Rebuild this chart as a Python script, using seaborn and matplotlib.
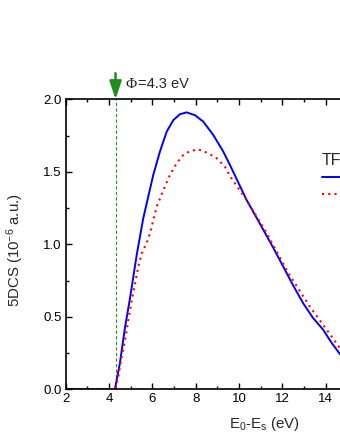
import matplotlib
matplotlib.use("Agg")
import matplotlib.pyplot as plt
import seaborn as sns
import pandas as pd
from matplotlib.ticker import MultipleLocator, FuncFormatter

# Data
x_blue = [2.0, 3.0, 4.0, 4.27, 4.5, 4.74, 4.97, 5.28, 5.58, 6.04, 6.35, 6.66, 6.97,
          7.27, 7.58, 7.97, 8.35, 8.81, 9.27, 9.58, 10.35, 11.12, 11.6, 12.04, 12.5,
          12.96, 13.4, 13.89, 14.25, 14.63, 15.0]
y_blue = [0.0, 0.0, 0.0, 0.0, 0.179, 0.43, 0.63, 0.93, 1.18, 1.478, 1.64, 1.777, 1.857,
          1.897, 1.91, 1.89, 1.846, 1.754, 1.64, 1.547, 1.305, 1.10, 0.97, 0.846, 0.715,
          0.593, 0.495, 0.409, 0.325, 0.248, 0.17]
x_red = [2.0, 3.0, 4.0, 4.27, 4.43, 4.58, 4.74, 4.89, 5.05, 5.2, 5.35, 5.51, 5.74,
         5.89, 6.20, 6.58, 6.81, 7.12, 7.43, 7.74, 8.12, 8.58, 8.97, 9.35, 9.58,
         10.35, 11.28, 12.2, 12.75, 13.27, 13.9, 14.5, 15.0]
y_red = [0.0, 0.0, 0.0, 0.0, 0.087, 0.225, 0.34, 0.478, 0.616, 0.73, 0.845, 0.938, 1.01,
         1.076, 1.26, 1.40, 1.478, 1.56, 1.616, 1.643, 1.655, 1.628, 1.593, 1.535, 1.47,
         1.305, 1.076, 0.82, 0.69, 0.57, 0.44, 0.317, 0.21]
series_names = ["TF-A", "TF-B"]
phi = 4.3

sns.set_theme(style="ticks")
plt.rcParams["font.family"] = ["Liberation Sans", "DejaVu Sans"]
plt.rcParams["mathtext.fontset"] = "custom"
plt.rcParams["mathtext.rm"] = "Liberation Sans"
plt.rcParams["mathtext.it"] = "Liberation Sans"
plt.rcParams["mathtext.bf"] = "Liberation Sans:bold"

fig = plt.figure(figsize=(3.4, 4.4), dpi=100)
W, H = 340, 440
left_px, right_px = 65.7, 65.7 + 18 * 21.67
bot_px, top_px = 389.3, 99.3
ax = fig.add_axes([left_px / W, 1 - bot_px / H, (right_px - left_px) / W, (bot_px - top_px) / H])

df_b = pd.DataFrame({"x": x_blue, "y": y_blue})
df_r = pd.DataFrame({"x": x_red, "y": y_red})
sns.lineplot(data=df_b, x="x", y="y", ax=ax, color="#0000ff", lw=1.4, label=series_names[0])
sns.lineplot(data=df_r, x="x", y="y", ax=ax, color="#ff0000", lw=1.5, label=series_names[1])
ax.lines[1].set_linestyle((0, (1, 2)))

ax.axvline(phi, color="#2e8b2e", lw=0.8, ls=(0, (3, 2)), zorder=1)
ax.annotate("", xy=(phi, 2.0), xytext=(phi, 2.18), xycoords="data",
            arrowprops=dict(arrowstyle="-|>,head_width=0.3,head_length=0.9",
                            color="#1e8c1e", lw=1.8, shrinkA=0, shrinkB=0),
            annotation_clip=False)
t_phi = ax.text(4.78, 2.078, "Φ", fontsize=11, ha="left", va="baseline",
                family=["Liberation Serif", "DejaVu Serif"], clip_on=False)
ax.annotate("=4.3 eV", xy=(1, 0), xycoords=t_phi, xytext=(0.5, 0),
            textcoords="offset points", fontsize=10.5, ha="left", va="bottom",
            annotation_clip=False)

ax.set_xlim(2, 20)
ax.set_ylim(0, 2.0)
ax.xaxis.set_major_locator(MultipleLocator(2))
ax.xaxis.set_minor_locator(MultipleLocator(1))
ax.xaxis.set_major_formatter(FuncFormatter(lambda v, p: f"{v:.0f}" if v <= 15 else ""))
ax.yaxis.set_major_locator(MultipleLocator(0.5))
ax.yaxis.set_minor_locator(MultipleLocator(0.25))
ax.yaxis.set_major_formatter(matplotlib.ticker.FormatStrFormatter("%.1f"))
ax.tick_params(which="both", direction="in", top=True, right=True, labelsize=9.5,
               width=1.0, color="black", labelcolor="black")
ax.tick_params(which="major", length=4.5, pad=3)
ax.tick_params(which="minor", length=2.5)
for s in ax.spines.values():
    s.set_linewidth(1.2)
    s.set_color("black")

ax.set_xlabel("E$_0$-E$_s$ (eV)", fontsize=10.8, va="center")
ax.set_ylabel("5DCS (10$^{-6}$ a.u.)", fontsize=10.8, va="center")
span_x = right_px - left_px
span_y = bot_px - top_px
ax.xaxis.set_label_coords((264 - left_px) / span_x, -(424 - bot_px) / span_y)
ax.yaxis.set_label_coords(-(left_px - 15) / span_x, (bot_px - 250) / span_y)

leg = ax.legend(title="TF", loc="upper left", frameon=False,
                bbox_to_anchor=(310 / W, 1 - 141 / H), bbox_transform=fig.transFigure,
                fontsize=9.5, title_fontsize=11.5, handlelength=2.6, labelspacing=0.35,
                alignment="left")

fig.savefig("out.png", dpi=100)
